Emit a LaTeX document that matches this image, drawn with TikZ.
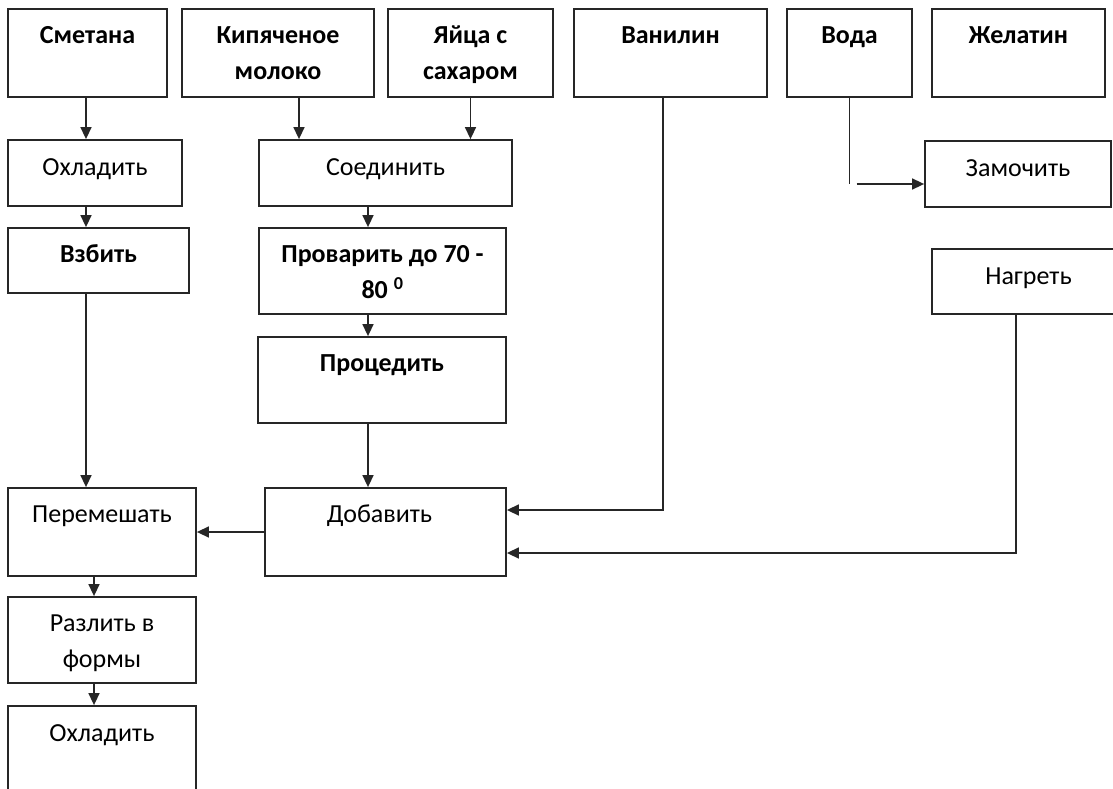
\documentclass[tikz,border=0pt]{standalone}
\usepackage{fontspec}
\setmainfont{Carlito}
\usetikzlibrary{arrows.meta}
\begin{document}
\begin{tikzpicture}[x=1pt,y=-1pt,
  box/.style={draw=black!85, line width=1.8pt, rectangle, inner sep=0pt},
  lbl/.style={anchor=north, inner sep=0pt, align=center, font=\fontsize{26}{36}\selectfont},
  blbl/.style={anchor=north, inner sep=0pt, align=center, font=\fontsize{26}{36}\selectfont\bfseries},
  conn/.style={draw=black!85, line width=1.5pt},
  arr/.style={conn, -{Triangle[length=12pt,width=11pt]}}]
\useasboundingbox (0,0) rectangle (1113,789);
% top row
\node[box, minimum width=159pt, minimum height=88pt] (smetana) at (87.5,53) {};
\node[box, minimum width=192pt, minimum height=88pt] (moloko) at (278,53) {};
\node[box, minimum width=165pt, minimum height=88pt] (yaica) at (470.5,53) {};
\node[box, minimum width=193pt, minimum height=88pt] (vanil) at (670.5,53) {};
\node[box, minimum width=125pt, minimum height=88pt] (voda) at (849.5,53) {};
\node[box, minimum width=173pt, minimum height=88pt] (zhel) at (1018.5,53) {};
% second level
\node[box, minimum width=174pt, minimum height=66pt] (ohl1) at (95,173) {};
\node[box, minimum width=253pt, minimum height=66pt] (soed) at (385.5,173) {};
\node[box, minimum width=186pt, minimum height=66pt] (zam) at (1018,174) {};
\node[box, minimum width=181pt, minimum height=65pt] (vzbit) at (98.5,260.5) {};
\node[box, minimum width=247pt, minimum height=86pt] (provar) at (382.5,271) {};
\node[box, minimum width=193pt, minimum height=65pt] (nagr) at (1028.5,281.5) {};
\node[box, minimum width=248pt, minimum height=86pt] (proced) at (382,380) {};
\node[box, minimum width=188pt, minimum height=88pt] (perem) at (102,532) {};
\node[box, minimum width=241pt, minimum height=88pt] (dobav) at (385.5,532) {};
\node[box, minimum width=188pt, minimum height=86pt] (razl) at (102,640) {};
\node[box, minimum width=188pt, minimum height=104pt] (ohl2) at (102,758) {};
% texts
\node[blbl] (smetana-t) at ([yshift=-9.8pt]smetana.north) {\strut Сметана};
\node[blbl] (moloko-t) at ([yshift=-9.8pt]moloko.north) {\strut Кипяченое\\\strut молоко};
\node[blbl] (yaica-t) at ([yshift=-9.8pt]yaica.north) {\strut Яйца с\\\strut сахаром};
\node[blbl] (vanil-t) at ([yshift=-9.8pt]vanil.north) {\strut Ванилин};
\node[blbl] (voda-t) at ([yshift=-9.8pt]voda.north) {\strut Вода};
\node[blbl] (zhel-t) at ([yshift=-9.8pt]zhel.north) {\strut Желатин};
\node[lbl] (ohl1-t) at ([yshift=-11pt]ohl1.north) {\strut Охладить};
\node[lbl] (soed-t) at ([yshift=-11pt]soed.north) {\strut Соединить};
\node[lbl] (zam-t) at ([yshift=-11pt]zam.north) {\strut Замочить};
\node[blbl] (vzbit-t) at ([yshift=-9.8pt]vzbit.north) {\strut Взбить};
\node[blbl] (provar-t) at ([yshift=-9.8pt]provar.north) {\strut Проварить до 70 -\\\strut 80 \textsuperscript{0}};
\node[lbl] (nagr-t) at ([yshift=-10.8pt]nagr.north) {\strut Нагреть};
\node[blbl] (proced-t) at ([yshift=-9.8pt]proced.north) {\strut Процедить};
\node[lbl] (perem-t) at ([yshift=-9.8pt]perem.north) {\strut Перемешать};
\node[lbl] (dobav-t) at ([xshift=-6pt,yshift=-9.8pt]dobav.north) {\strut Добавить};
\node[lbl] (razl-t) at ([yshift=-9.8pt]razl.north) {\strut Разлить в\\\strut формы};
\node[lbl] (ohl2-t) at ([yshift=-10.8pt]ohl2.north) {\strut Охладить};
% connectors
\draw[arr] ([xshift=-1.5pt]smetana.south) -- ([xshift=-1.5pt]smetana.south |- ohl1.north);
\draw[arr] ([xshift=21pt]moloko.south) -- ([xshift=21pt]moloko.south |- soed.north);
\draw[arr] (yaica.south) -- (yaica.south |- soed.north);
\draw[arr] ([xshift=-9pt]ohl1.south) -- ([xshift=-9pt]ohl1.south |- vzbit.north);
\draw[arr] ([xshift=-17.5pt]soed.south) -- ([xshift=-17.5pt]soed.south |- provar.north);
\draw[arr] ([xshift=-14.5pt]provar.south) -- ([xshift=-14.5pt]provar.south |- proced.north);
\draw[arr] ([xshift=-14pt]proced.south) -- ([xshift=-14pt]proced.south |- dobav.north);
\draw[arr] ([xshift=-12.5pt]vzbit.south) -- ([xshift=-12.5pt]vzbit.south |- perem.north);
\draw[arr] (dobav.west) -- (perem.east);
\draw[arr] ([xshift=-8pt]perem.south) -- ([xshift=-8pt]perem.south |- razl.north);
\draw[arr] ([xshift=-8pt]razl.south) -- ([xshift=-8pt]razl.south |- ohl2.north);
\draw[arr] ([xshift=-7.5pt]vanil.south) |- ([yshift=22pt]dobav.east);
\coordinate (vodaend) at (849.5,184);
\draw[conn] (voda.south) -- (vodaend);
\draw[arr] ([xshift=7pt]vodaend) -- (vodaend -| zam.west);
\draw[arr] ([xshift=-12.5pt]nagr.south) |- ([yshift=-21pt]dobav.east);
\end{tikzpicture}
\end{document}
